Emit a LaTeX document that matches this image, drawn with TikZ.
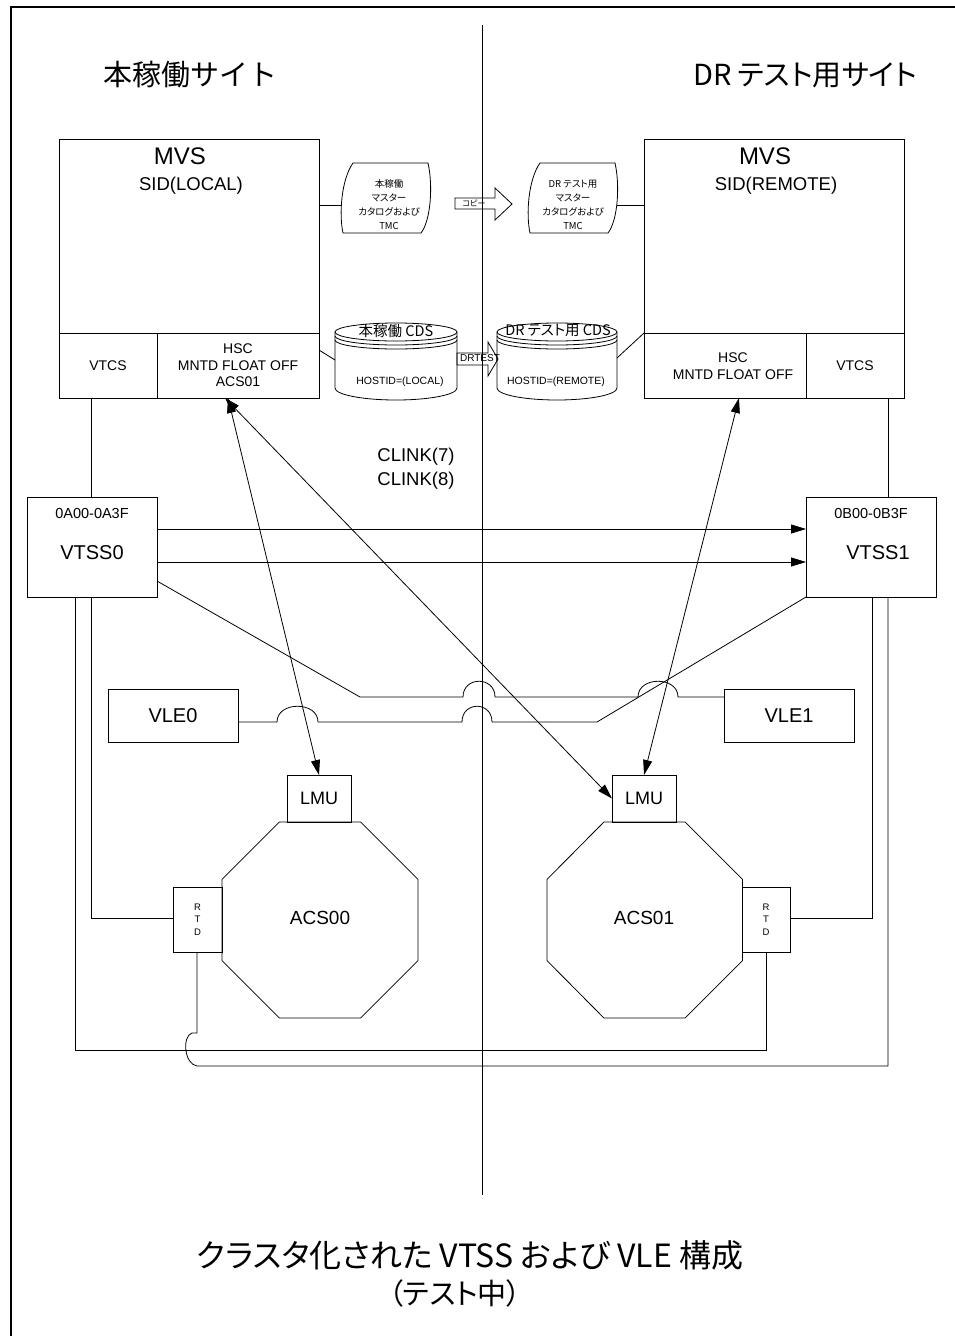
\documentclass[tikz,border=0pt]{standalone}
\usepackage{fontspec}
\setmainfont{Liberation Sans}
\newfontfamily\jp[RawFeature=+palt]{Noto Sans CJK JP}
\newfontfamily\jpf{Noto Sans CJK JP}
\usetikzlibrary{arrows.meta}
\begin{document}
\begin{tikzpicture}[x=1pt,y=-1pt,line width=0.8pt,
  box/.style={draw,line width=0.8pt,inner sep=0pt,outer sep=0pt,anchor=north west},
  lbl/.style={inner sep=0pt,outer sep=0pt,align=center},
  tip/.style={-{Triangle[length=15pt,width=9pt]}},
  dtip/.style={{Triangle[length=15pt,width=9pt]}-{Triangle[length=15pt,width=9pt]}},
]
\useasboundingbox (0,0) rectangle (954,1336);
\fill[white] (0,0) rectangle (954,1336);
% frame
\coordinate (fbl) at (11,1340);
\coordinate (ftl) at (11,7);
\coordinate (ftr) at (960,7);
\draw[line width=1.6pt] (fbl) -- (ftl) -- (ftr);
% center divider
\coordinate (cdt) at (482,25);
\coordinate (cdb) at (482,1195);
\draw (cdt) -- (cdb);

% titles
\node[lbl,font=\jpf\fontsize{29}{34}\selectfont] (titleL) at (190,75) {本稼働サイト};
\node[lbl,font=\jp\fontsize{29}{34}\selectfont] (titleR) at (805,75) {DR テスト用サイト};

% MVS left
\node[box,minimum width=260pt,minimum height=194pt] (mvsL) at (59,139) {};
\node[box,minimum width=98pt,minimum height=65pt,font=\fontsize{14}{17}\selectfont] (vtcsL) at (59,333) {VTCS};
\node[box,minimum width=162pt,minimum height=65pt,align=center,font=\fontsize{14}{16.5}\selectfont] (hscL) at (157,333) {HSC\\MNTD FLOAT OFF\\ACS01};
\node[lbl,font=\fontsize{24}{28}\selectfont] (mvsLt) at (180,156) {MVS};
\node[lbl,font=\fontsize{18.5}{22}\selectfont] (sidL) at (191,186) {SID(LOCAL)};

% MVS right
\node[box,minimum width=260pt,minimum height=194pt] (mvsR) at (644,139) {};
\node[box,minimum width=162pt,minimum height=65pt] (hscR) at (644,333) {};
\node[box,minimum width=98pt,minimum height=65pt,font=\fontsize{14}{17}\selectfont] (vtcsR) at (806,333) {VTCS};
\node[lbl,font=\fontsize{14}{17.5}\selectfont] (hscRt) at (733,366) {HSC\\MNTD FLOAT OFF};
\node[lbl,font=\fontsize{24}{28}\selectfont] (mvsRt) at (765,156) {MVS};
\node[lbl,font=\fontsize{18.5}{22}\selectfont] (sidR) at (776,186) {SID(REMOTE)};

% catalog documents
\draw (353,163) -- (428,163) .. controls (433,185) and (431,220) .. (421,233)
      -- (343,233) .. controls (339,215) and (341,180) .. (353,163) -- cycle;
\node[lbl,font=\jp\fontsize{9.5}{14}\selectfont] (docLt) at (389,205) {本稼働\\マスター\\カタログおよび\\TMC};
\draw (540,163) -- (615,163) .. controls (620,185) and (618,220) .. (608,233)
      -- (530,233) .. controls (526,215) and (528,180) .. (540,163) -- cycle;
\node[lbl,font=\jp\fontsize{9.5}{14}\selectfont] (docRt) at (573,205) {DR テスト用\\マスター\\カタログおよび\\TMC};
\coordinate (docLw) at (341,205);
\coordinate (docRe) at (617,205);
\draw (mvsL.east |- docLw) -- (docLw);
\draw (docRe) -- (docRe -| mvsR.west);

% copy arrow
\draw (455,198) -- (495,198) -- (495,188) -- (512,204) -- (495,220) -- (495,209) -- (455,209) -- cycle;
\node[lbl,font=\jp\fontsize{8}{9}\selectfont] (copyt) at (474,203.5) {コピー};

% CDS cylinders
\draw (335,332) -- (335,388) arc[start angle=180,end angle=0,x radius=61,y radius=12] -- (457,332);
\draw (396,332) ellipse[x radius=61,y radius=9];
\draw (335,336) arc[start angle=180,end angle=0,x radius=61,y radius=9];
\draw (335,340) arc[start angle=180,end angle=0,x radius=61,y radius=9];
\node[lbl,font=\jp\fontsize{14.5}{17}\selectfont] (cdsLt) at (396,331) {本稼働 CDS};
\node[lbl,font=\fontsize{10.5}{12}\selectfont] (hostL) at (400,382) {HOSTID=(LOCAL)};

\draw (497,332) -- (497,388) arc[start angle=180,end angle=0,x radius=60,y radius=12] -- (617,332);
\draw (557,332) ellipse[x radius=60,y radius=9];
\draw (497,336) arc[start angle=180,end angle=0,x radius=60,y radius=9];
\draw (497,340) arc[start angle=180,end angle=0,x radius=60,y radius=9];
\node[lbl,font=\jp\fontsize{14.5}{17}\selectfont] (cdsRt) at (558,331) {DR テスト用 CDS};
\node[lbl,font=\fontsize{10.5}{12}\selectfont] (hostR) at (556,382) {HOSTID=(REMOTE)};

\coordinate (cdsLw) at (335,360);
\coordinate (cdsRe) at (617,358);
\draw (hscL.east |- 0,350) -- (cdsLw);
\draw (cdsRe) -- (hscR.north west);

% DRTEST arrow
\draw (457,353) -- (488,353) -- (488,342) -- (498,359) -- (488,376) -- (488,365) -- (457,365) -- cycle;
\node[lbl,font=\fontsize{10}{12}\selectfont] (drtest) at (480,358) {DRTEST};

% VTSS
\node[box,minimum width=130pt,minimum height=100pt] (vtss0) at (27,497) {};
\node[lbl,font=\fontsize{14.5}{17}\selectfont] (vtss0a) at (92,514) {0A00-0A3F};
\node[lbl,font=\fontsize{20}{24}\selectfont] (vtss0t) at (92,553) {VTSS0};
\node[box,minimum width=130pt,minimum height=100pt] (vtss1) at (806,497) {};
\node[lbl,font=\fontsize{14.5}{17}\selectfont] (vtss1a) at (871,514) {0B00-0B3F};
\node[lbl,font=\fontsize{20}{24}\selectfont] (vtss1t) at (878,553) {VTSS1};

\draw (91,0 |- vtcsL.south) -- (91,0 |- vtss0.north);
\draw (888,0 |- vtcsR.south) -- (888,0 |- vtss1.north);

% CLINK
\node[lbl,font=\fontsize{18.5}{22}\selectfont] (cl7) at (416,457) {CLINK(7)};
\node[lbl,font=\fontsize{18.5}{22}\selectfont] (cl8) at (416,481) {CLINK(8)};
\draw[tip] (vtss0.east |- 0,529) -- (vtss1.west |- 0,529);
\draw[tip] (vtss0.east |- 0,562) -- (vtss1.west |- 0,562);

% VLE
\node[box,minimum width=130pt,minimum height=53pt,font=\fontsize{20}{24}\selectfont] (vle0) at (108,689) {VLE0};
\node[box,minimum width=130pt,minimum height=53pt,font=\fontsize{20}{24}\selectfont] (vle1) at (724,689) {VLE1};

% LMU
\node[box,minimum width=64pt,minimum height=47pt,font=\fontsize{18}{21}\selectfont] (lmuL) at (287,775) {LMU};
\node[box,minimum width=64pt,minimum height=47pt,font=\fontsize{18}{21}\selectfont] (lmuR) at (612,775) {LMU};

% octagons
\draw (279.4,822) -- (360.6,822) -- (418,879.4) -- (418,960.6) -- (360.6,1018) -- (279.4,1018) -- (222,960.6) -- (222,879.4) -- cycle;
\node[lbl,font=\fontsize{19}{23}\selectfont] (acs00) at (320,918) {ACS00};
\draw (603.9,822) -- (685.1,822) -- (742.5,879.4) -- (742.5,960.6) -- (685.1,1018) -- (603.9,1018) -- (547,960.6) -- (547,879.4) -- cycle;
\node[lbl,font=\fontsize{19}{23}\selectfont] (acs01) at (644,918) {ACS01};

% RTD
\node[box,minimum width=49pt,minimum height=65pt,align=center,font=\fontsize{9.5}{12.5}\selectfont] (rtdL) at (173,887) {R\\T\\D};
\node[box,minimum width=48pt,minimum height=65pt,align=center,font=\fontsize{9.5}{12.5}\selectfont] (rtdR) at (742,887) {R\\T\\D};

% HSC - LMU arrows
\draw[dtip] (hscL.south -| 228,0) -- (lmuL.north);
\draw[dtip] (hscL.south -| 225,0) -- (lmuR.west);
\draw[dtip] (hscR.south -| 739,0) -- (lmuR.north);

% VLE wiring
\draw (vtss0.east |- 0,581) -- (360,697) -- (463,697) .. controls (463,676) and (495,676) .. (495,697)
  -- (638,697) .. controls (638,676) and (678,676) .. (678,697) -- (vle1.west |- 0,697);
\draw (vle0.east |- 0,722) -- (277,722) .. controls (277,701) and (318,701) .. (318,722)
  -- (462,722) .. controls (462,701) and (492,701) .. (492,722) -- (597,722) -- (vtss1.south west);

% RTD wiring
\draw (75,0 |- vtss0.south) -- (75,1050) -- (766,1050) -- (766,0 |- rtdR.south);
\draw (91,0 |- vtss0.south) -- (91,918) -- (rtdL.west |- 0,918);
\draw (872,0 |- vtss1.south) -- (872,918) -- (rtdR.east |- 0,918);
\draw (888,0 |- vtss1.south) -- (888,1066) -- (197,1066) .. controls (184,1064) and (182,1036) .. (192,1033) -- (197,1033) -- (197,0 |- rtdL.south);

% bottom caption
\node[lbl,font=\jp\fontsize{32}{38}\selectfont] (cap1) at (470,1255) {クラスタ化された VTSS および VLE 構成};
\node[lbl,font=\jp\fontsize{29}{34}\selectfont] (cap2) at (455,1293) {（テスト中）};
\end{tikzpicture}
\end{document}
